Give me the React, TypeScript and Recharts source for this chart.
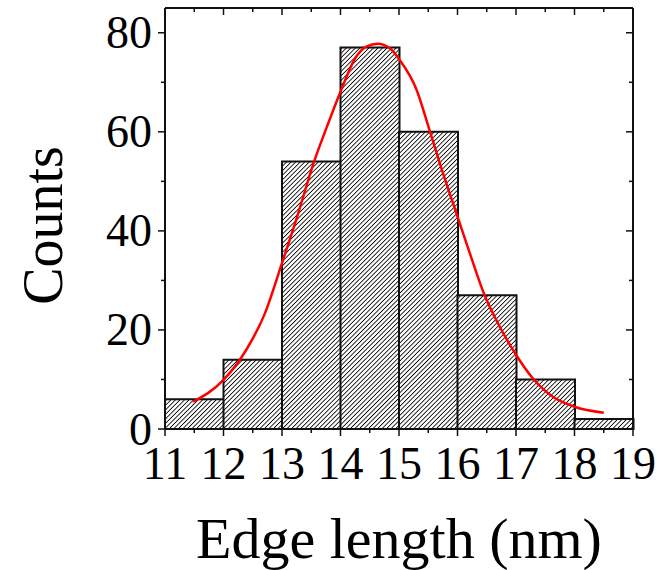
import { Bar, ComposedChart, Line, XAxis, YAxis } from 'recharts'

const binStarts = [11, 12, 13, 14, 15, 16, 17, 18]
const counts = [6, 14, 54, 77, 60, 27, 10, 2]

const fitX = [11.48, 12.0, 12.39, 12.71, 13.0, 13.26, 13.54, 13.77, 14.0, 14.27, 14.44, 14.64, 14.84, 15.0, 15.3, 15.52, 15.75, 16.0, 16.23, 16.46, 16.72, 17.0, 17.29, 17.63, 18.0, 18.5]
const fitY = [5.5, 9.9, 16.0, 23.4, 33.5, 42.9, 53.7, 61.1, 68.1, 75.2, 77.2, 77.8, 76.9, 74.7, 68.5, 60.4, 51.7, 42.9, 34.8, 27.1, 20.7, 15.0, 10.2, 6.5, 4.5, 3.3]

const xTicks = [11, 11.5, 12, 12.5, 13, 13.5, 14, 14.5, 15, 15.5, 16, 16.5, 17, 17.5, 18, 18.5, 19]
const yTicks = [0, 10, 20, 30, 40, 50, 60, 70, 80]

const histData = binStarts.map((s, i) => ({ mid: s + 0.5, count: counts[i] }))
const fitData = fitX.map((x, i) => ({ mid: x, fit: fitY[i] }))

const FONT = '"Liberation Serif", "Times New Roman", serif'
const INK = '#111'

const isMajorX = (v: number) => Number.isInteger(v)
const isMajorY = (v: number) => v % 20 === 0

function BottomTick({ x, y, payload }: any) {
	const major = isMajorX(payload.value)
	return (
		<g>
			<line x1={x} x2={x} y1={y} y2={y + (major ? 7 : 4)} stroke={INK} strokeWidth={1.5} />
			{major && (
				<text x={x} y={y + 34} textAnchor='middle' dominantBaseline='central' fontSize={46} fontFamily={FONT} fill='#000'>
					{payload.value}
				</text>
			)}
		</g>
	)
}

function TopTick({ x, y, payload }: any) {
	const major = isMajorX(payload.value)
	return <line x1={x} x2={x} y1={y} y2={y + (major ? 7 : 4)} stroke={INK} strokeWidth={1.5} />
}

function LeftTick({ x, y, payload }: any) {
	const major = isMajorY(payload.value)
	return (
		<g>
			<line x1={x - (major ? 7 : 4)} x2={x} y1={y} y2={y} stroke={INK} strokeWidth={1.5} />
			{major && (
				<text x={x - 13} y={y} textAnchor='end' dominantBaseline='central' fontSize={46} fontFamily={FONT} fill='#000'>
					{payload.value}
				</text>
			)}
		</g>
	)
}

function RightTick({ x, y, payload }: any) {
	const major = isMajorY(payload.value)
	return <line x1={x - (major ? 7 : 4)} x2={x} y1={y} y2={y} stroke={INK} strokeWidth={1.5} />
}

function XTitle(props: any) {
	const vb = props.viewBox
	return (
		<text x={vb.x + vb.width / 2} y={vb.y + 129} textAnchor='middle' fontSize={58} fontFamily={FONT} fill='#000'>
			Edge length (nm)
		</text>
	)
}

function YTitle(props: any) {
	const vb = props.viewBox
	const cx = vb.x + 62
	const cy = vb.y + vb.height / 2 + 7
	return (
		<text x={cx} y={cy} transform={`rotate(-90 ${cx} ${cy})`} textAnchor='middle' fontSize={56} fontFamily={FONT} fill='#000'>
			Counts
		</text>
	)
}

export default function App() {
	return (
		<div style={{ position: 'absolute', left: 0, top: 0, background: '#fff' }}>
			<ComposedChart
				width={660}
				height={570}
				data={histData}
				barCategoryGap='0%'
				barGap={0}
				margin={{ top: 7, right: 26, bottom: 0, left: 0 }}
			>
				<defs>
					<pattern id='hatch' patternUnits='userSpaceOnUse' width={3.2} height={3.2} patternTransform='rotate(45)'>
						<rect width={3.2} height={3.2} fill='#fff' />
						<line x1={0} y1={0} x2={0} y2={3.2} stroke='#000' strokeWidth={1.7} />
					</pattern>
				</defs>
				<XAxis
					dataKey='mid'
					type='number'
					domain={[11, 19]}
					ticks={xTicks}
					interval={0}
					height={141}
					tickSize={0}
					tickMargin={0}
					tickLine={false}
					axisLine={{ stroke: INK, strokeWidth: 2 }}
					tick={<BottomTick />}
					label={(p: any) => <XTitle {...p} />}
				/>
				<XAxis
					xAxisId='top'
					dataKey='mid'
					orientation='top'
					type='number'
					domain={[11, 19]}
					ticks={xTicks}
					interval={0}
					height={1}
					tickSize={0}
					tickMargin={0}
					tickLine={false}
					axisLine={{ stroke: INK, strokeWidth: 2 }}
					tick={<TopTick />}
				/>
				<YAxis
					type='number'
					domain={[0, 85]}
					ticks={yTicks}
					interval={0}
					width={165}
					tickSize={0}
					tickMargin={0}
					tickLine={false}
					axisLine={{ stroke: INK, strokeWidth: 2 }}
					tick={<LeftTick />}
					label={(p: any) => <YTitle {...p} />}
				/>
				<YAxis
					yAxisId='right'
					orientation='right'
					type='number'
					domain={[0, 85]}
					ticks={yTicks}
					interval={0}
					width={1}
					tickSize={0}
					tickMargin={0}
					tickLine={false}
					axisLine={{ stroke: INK, strokeWidth: 2 }}
					tick={<RightTick />}
				/>
				<Bar
					dataKey='count'
					fill='url(#hatch)'
					stroke={INK}
					strokeWidth={2}
					isAnimationActive={false}
				/>
				<Line
					data={fitData}
					xAxisId='top'
					yAxisId='right'
					dataKey='fit'
					type='monotone'
					stroke='#ff0000'
					strokeWidth={2.5}
					dot={false}
					activeDot={false}
					isAnimationActive={false}
				/>
			</ComposedChart>
		</div>
	)
}
